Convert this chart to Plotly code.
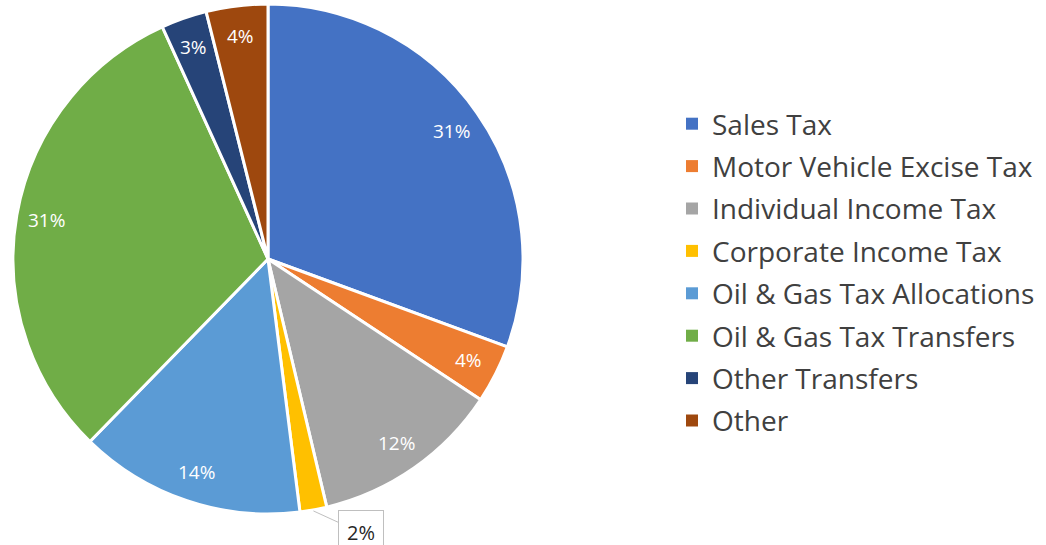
import math
import plotly.graph_objects as go

categories = ["Sales Tax", "Motor Vehicle Excise Tax", "Individual Income Tax",
              "Corporate Income Tax", "Oil & Gas Tax Allocations",
              "Oil & Gas Tax Transfers", "Other Transfers", "Other"]
shares = [30.6, 3.7, 12.0, 1.7, 14.3, 30.9, 2.9, 3.9]
colors = ["#4472C4", "#ED7D31", "#A5A5A5", "#FFC000", "#5B9BD5",
          "#70AD47", "#264478", "#9E480E"]

W, H = 1046, 545
cx_px, cy_px, r_px = 268, 259, 255

fig = go.Figure()
fig.add_trace(go.Pie(
    labels=categories, values=shares, sort=False, direction="clockwise",
    rotation=0, marker=dict(colors=colors, line=dict(color="white", width=3)),
    textinfo="none", showlegend=False, hoverinfo="label+percent",
    domain=dict(x=[(cx_px - r_px) / W, (cx_px + r_px) / W],
                y=[1 - (cy_px + r_px) / H, 1 - (cy_px - r_px) / H]),
))

# legend entries
for i, (c, col) in enumerate(zip(categories, colors)):
    fig.add_trace(go.Scatter(x=[None], y=[None], mode="markers", name=c,
                             legendgroup=str(i),
                             marker=dict(symbol="square", size=12, color=col)))

# slice percentage labels
total = sum(shares)
cum = 0
annotations = []
for v, c in zip(shares, categories):
    mid = (cum + v / 2) / total * 2 * math.pi
    cum += v
    pct = f"{round(v / total * 100)}%"
    if c == "Corporate Income Tax":
        ex = cx_px + r_px * math.sin(mid)
        ey = cy_px - r_px * math.cos(mid)
        annotations.append(dict(
            x=ex / W, y=1 - (ey + 1) / H, xref="paper", yref="paper",
            text=pct, showarrow=True, arrowhead=0, arrowwidth=1,
            arrowcolor="#bfbfbf", ax=48, ay=22, bgcolor="white",
            bordercolor="#bfbfbf", borderwidth=1, borderpad=8,
            font=dict(family="Open Sans", size=20, color="#262626")))
        continue
    rr = 0.88 * r_px
    x = cx_px + rr * math.sin(mid)
    y = cy_px - rr * math.cos(mid)
    annotations.append(dict(
        x=x / W, y=1 - y / H, xref="paper", yref="paper", text=pct,
        xanchor="center", yanchor="middle",
        showarrow=False, font=dict(family="Open Sans", size=19, color="white")))

fig.update_layout(
    width=W, height=H, margin=dict(l=0, r=0, t=0, b=0),
    paper_bgcolor="white", plot_bgcolor="white",
    xaxis=dict(visible=False), yaxis=dict(visible=False),
    annotations=annotations,
    legend=dict(x=672 / W, y=1 - 99 / H, xanchor="left", yanchor="top",
                font=dict(family="Open Sans", size=28, color="#404040"),
                tracegroupgap=3, bgcolor="rgba(0,0,0,0)"),
)
fig.write_html("out.html", config={"displayModeBar": False},
               post_script="document.body.style.margin='0';document.body.style.overflow='hidden';")
